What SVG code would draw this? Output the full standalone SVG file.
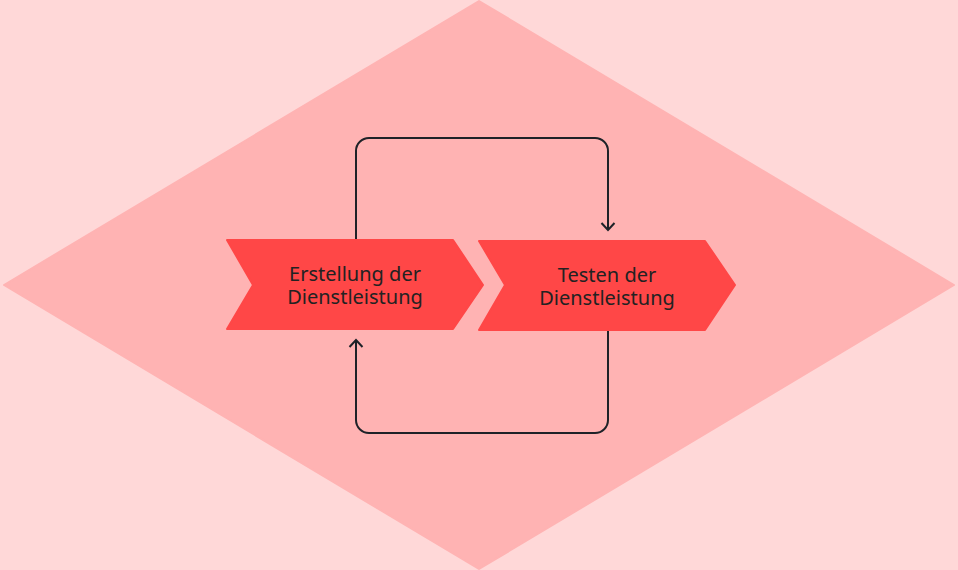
<svg xmlns="http://www.w3.org/2000/svg" width="958" height="570" viewBox="0 0 958 570">
<defs>
<style>
.bg{fill:#FFD8D8}
.dia{fill:#FFB3B3}
.chev{fill:#FF4747;stroke:#FF4747;stroke-width:2;stroke-linejoin:round}
.lbl{font-family:"Noto Sans","Open Sans",sans-serif;font-size:20px;fill:#222222;text-anchor:middle}
.conn{fill:none;stroke:#1E2228;stroke-width:2}
</style>
<marker id="arr" viewBox="0 0 16 16" refX="14" refY="8" markerWidth="16" markerHeight="16" markerUnits="userSpaceOnUse" orient="auto">
<path d="M7,1.5 L14,8 L7,14.5" fill="none" stroke="#1E2228" stroke-width="2"/>
</marker>
</defs>
<rect class="bg" x="0" y="0" width="958" height="570"/>
<path class="dia" d="M479,1 L954,285 L479,569 L4,285 Z" stroke="#FFB3B3" stroke-width="2" stroke-linejoin="round"/>
<g id="connectors">
<path class="conn" d="M356,240 V151 A13,13 0 0 1 369,138 H595 A13,13 0 0 1 608,151 V230" marker-end="url(#arr)"/>
<path class="conn" d="M608,330 V420 A13,13 0 0 1 595,433 H369 A13,13 0 0 1 356,420 V340" marker-end="url(#arr)"/>
</g>
<g id="node1">
<path class="chev" d="M227,240 H453 L483,285 L453,329 H227 L253,285 Z"/>
<text class="lbl" x="355" y="281">Erstellung der</text>
<text class="lbl" x="355" y="304">Dienstleistung</text>
</g>
<g id="node2">
<path class="chev" d="M479,241 H705 L735,285 L705,330 H479 L505,285 Z"/>
<text class="lbl" x="607" y="282">Testen der</text>
<text class="lbl" x="607" y="305">Dienstleistung</text>
</g>
</svg>
